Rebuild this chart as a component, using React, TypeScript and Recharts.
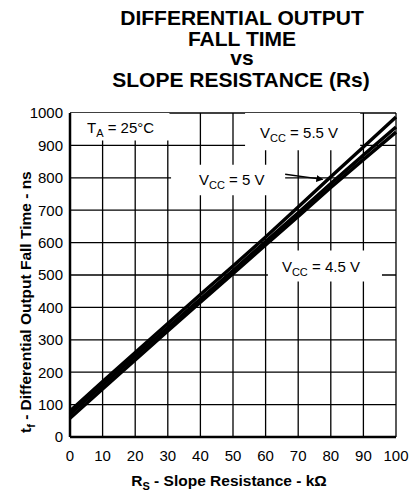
import { LineChart, Line, XAxis, YAxis, CartesianGrid, ReferenceArea, ReferenceLine } from 'recharts';

// R_S in kΩ
const rs = [0, 10, 20, 30, 40, 50, 60, 70, 80, 90, 100];
// fall time (ns)
const vcc55 = [80, 171, 261, 350, 440, 528, 617, 710, 803, 895, 988];
const vcc5 = [70, 160, 250, 338, 426, 514, 603, 692, 782, 870, 957];
const vcc45 = [58, 148, 238, 327, 416, 504, 593, 681, 770, 856, 941];

const xTicks = [0, 10, 20, 30, 40, 50, 60, 70, 80, 90, 100];
const yTicks = [0, 100, 200, 300, 400, 500, 600, 700, 800, 900, 1000];

const data = rs.map((r, i) => ({ rs: r, v55: vcc55[i], v5: vcc5[i], v45: vcc45[i] }));

const FONT = '"Liberation Sans", Arial, Helvetica, sans-serif';

// text inside a white box, subscript on the symbol
function BoxLabel({ viewBox, main, sub, rest, dx, dy }: any) {
  if (!viewBox) return null;
  return (
    <text x={viewBox.x + dx} y={viewBox.y + dy} fontFamily={FONT} fontSize={15} fill="#000">
      {main}
      <tspan fontSize={11} dy={4}>{sub}</tspan>
      <tspan dy={-4}>{rest}</tspan>
    </text>
  );
}

export default function App() {
  return (
    <div style={{ position: 'absolute', left: 0, top: 0, width: 412, height: 495, background: '#fff' }}>
      <LineChart
        width={412}
        height={495}
        data={data}
        margin={{ top: 113, right: 16, bottom: 28, left: 30 }}
        style={{ fontFamily: FONT }}
      >
        <CartesianGrid stroke="#000" strokeWidth={1.3} horizontalValues={yTicks} verticalValues={xTicks} />
        <ReferenceArea x1={0} x2={30.5} y1={915} y2={1000} fill="#fff" fillOpacity={1} stroke="none"
          label={<BoxLabel main="T" sub="A" rest=" = 25°C" dx={17} dy={20} />} />
        <ReferenceArea x1={53.7} x2={89} y1={885} y2={1000} fill="#fff" fillOpacity={1} stroke="none"
          label={<BoxLabel main="V" sub="CC" rest=" = 5.5 V" dx={15} dy={25} />} />
        <ReferenceArea x1={31} x2={66} y1={746} y2={840} fill="#fff" fillOpacity={1} stroke="none"
          label={<BoxLabel main="V" sub="CC" rest=" = 5 V" dx={28} dy={20} />} />
        <ReferenceArea x1={60.7} x2={95.7} y1={480} y2={576} fill="#fff" fillOpacity={1} stroke="none"
          label={<BoxLabel main="V" sub="CC" rest=" = 4.5 V" dx={14} dy={22} />} />
        <ReferenceLine segment={[{ x: 66, y: 811 }, { x: 77.5, y: 795 }]} stroke="#000" strokeWidth={1.3}
          markerEnd="url(#arrowhead)" />
        <XAxis
          dataKey="rs"
          type="number"
          domain={[0, 100]}
          ticks={xTicks}
          height={30}
          tickLine={false}
          tickSize={11}
          tickMargin={2}
          axisLine={{ stroke: '#000', strokeWidth: 2.5 }}
          tick={{ fontSize: 15, fill: '#000', fontFamily: FONT }}
        />
        <XAxis
          xAxisId="top"
          dataKey="rs"
          type="number"
          orientation="top"
          domain={[0, 100]}
          ticks={xTicks}
          height={0}
          mirror
          tick={false}
          tickSize={4}
          tickLine={{ stroke: '#000', strokeWidth: 1.3 }}
          axisLine={{ stroke: '#000', strokeWidth: 2.5 }}
        />
        <YAxis
          type="number"
          domain={[0, 1000]}
          ticks={yTicks}
          width={40}
          tickLine={false}
          tickSize={5}
          tickMargin={2}
          axisLine={{ stroke: '#000', strokeWidth: 2.5 }}
          tick={{ fontSize: 15, fill: '#000', fontFamily: FONT }}
        />
        <YAxis
          yAxisId="right"
          type="number"
          orientation="right"
          domain={[0, 1000]}
          ticks={yTicks}
          width={0}
          tick={false}
          tickLine={false}
          axisLine={{ stroke: '#000', strokeWidth: 2.5 }}
        />
        <Line dataKey="v55" stroke="#000" strokeWidth={3.4} dot={false} isAnimationActive={false} />
        <Line dataKey="v5" stroke="#000" strokeWidth={3.4} dot={false} isAnimationActive={false} />
        <Line dataKey="v45" stroke="#000" strokeWidth={3.4} dot={false} isAnimationActive={false} />
      </LineChart>

      <svg width={412} height={495} style={{ position: 'absolute', left: 0, top: 0, pointerEvents: 'none' }}>
        <defs>
          <marker id="arrowhead" viewBox="0 0 10 10" refX="9" refY="5" markerWidth="7" markerHeight="7"
            markerUnits="userSpaceOnUse" orient="auto">
            <path d="M0,0 L10,5 L0,10 z" fill="#000" />
          </marker>
        </defs>
        <g fontFamily={FONT} fontWeight="bold" fontSize={21} textAnchor="middle" fill="#000">
          <text x={242} y={25}>DIFFERENTIAL OUTPUT</text>
          <text x={242} y={46}>FALL TIME</text>
          <text x={242} y={65}>vs</text>
          <text x={241} y={87}>SLOPE RESISTANCE (Rs)</text>
        </g>
        <text x={229} y={486} fontFamily={FONT} fontWeight="bold" fontSize={15.5} textAnchor="middle" fill="#000">
          R<tspan fontSize={11} dy={4}>S</tspan><tspan dy={-4}> - Slope Resistance - kΩ</tspan>
        </text>
        <text x={31} y={433} transform="rotate(-90 31 433)" fontFamily={FONT} fontWeight="bold" fontSize={15.5}
          textAnchor="start" fill="#000">
          t<tspan fontSize={11} dy={4}>f</tspan><tspan dy={-4}> - Differential Output Fall Time - ns</tspan>
        </text>
      </svg>
    </div>
  );
}
